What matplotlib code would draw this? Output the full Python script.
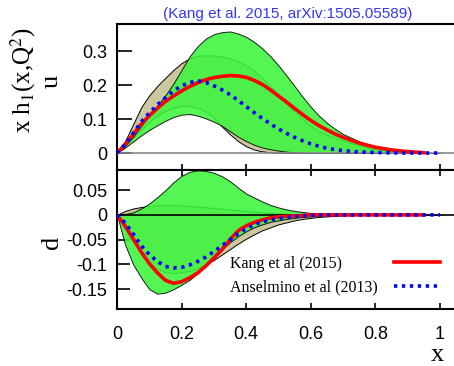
import numpy as np
import matplotlib
matplotlib.use("Agg")
import matplotlib.pyplot as plt

plt.rcParams['mathtext.fontset'] = 'stix'

# x grid
x_ans = [0, .025, .05, .075, .1, .125, .15, .175, .2, .225, .25, .275, .3, .325, .35,
         .375, .4, .425, .45, .475, .5, .525, .55, .575, .6, .625, .65, .675, .7,
         .75, .8, .85, .9, .95, 1.0]
x_kang = x_ans[:-1]

# u quark (top panel)
kang_u = [0, .025, .055, .085, .11, .132, .152, .168, .183, .196, .207, .216, .222, .226, .228,
          .227, .223, .214, .202, .186, .168, .150, .131, .113, .096, .081, .068, .056, .046,
          .029, .017, .009, .004, .001]
kang_u_hi = [0, .022, .048, .08, .112, .14, .17, .205, .245, .285, .315, .337, .35, .356, .358,
             .352, .342, .327, .308, .285, .258, .228, .197, .165, .136, .11, .089, .071, .056,
             .034, .019, .010, .004, .001]
kang_u_lo = [0, .016, .034, .052, .068, .082, .095, .106, .113, .115, .11, .102, .092, .08, .064,
             .048, .035, .024, .016, .011, .007, .004, .002, .001, 0, 0, 0, 0, 0,
             0, 0, 0, 0, 0]
ans_u = [0, .025, .058, .092, .118, .142, .163, .183, .198, .208, .213, .208, .198, .186, .172,
         .155, .137, .119, .102, .086, .071, .058, .046, .036, .027, .020, .014, .010, .007,
         .003, .0015, .0005, 0, 0, 0]
ans_u_hi = [0, .035, .085, .135, .17, .198, .222, .245, .265, .279, .286, .288, .287, .284, .279,
            .270, .258, .242, .221, .197, .172, .147, .122, .099, .08, .064, .054, .045, .037,
            .022, .011, .004, .001, 0, 0]
ans_u_lo = [0, .02, .045, .07, .092, .11, .124, .134, .139, .139, .133, .122, .105, .078, .055,
            .035, .02, .01, .005, .002, .001, 0, 0, 0, 0, 0, 0, 0, 0,
            0, 0, 0, 0, 0, 0]

# d quark (bottom panel)
kang_d = [0, -.022, -.048, -.075, -.098, -.117, -.132, -.138, -.135, -.127, -.117, -.103, -.087, -.07, -.05,
          -.032, -.022, -.015, -.010, -.006, -.004, -.003, -.002, -.001, 0, 0, 0, 0, 0,
          0, 0, 0, 0, 0]
kang_d_hi = [0, .002, .005, .013, .023, .036, .05, .066, .079, .087, .09, .089, .085, .078, .068,
             .055, .043, .035, .027, .02, .015, .011, .008, .006, .004, .003, .002, .001, .001,
             0, 0, 0, 0, 0]
kang_d_lo = [0, -.06, -.1, -.127, -.15, -.159, -.157, -.15, -.141, -.131, -.118, -.103, -.087, -.07, -.055,
             -.043, -.033, -.025, -.019, -.014, -.011, -.008, -.006, -.004, -.003, -.002, -.001, -.001, 0,
             0, 0, 0, 0, 0]
ans_d = [0, -.016, -.038, -.062, -.08, -.094, -.104, -.107, -.106, -.101, -.094, -.085, -.074, -.062, -.05,
         -.038, -.028, -.02, -.014, -.01, -.007, -.005, -.003, -.002, -.001, 0, 0, 0, 0,
         0, 0, 0, 0, 0, 0]
ans_d_hi = [0, .008, .013, .016, .018, .019, .02, .02, .019, .018, .017, .0155, .014, .0125, .011,
            .0095, .008, .0065, .005, .004, .003, .0025, .002, .0015, .001, .0005, 0, 0, 0,
            0, 0, 0, 0, 0, 0]
ans_d_lo = [0, -.03, -.055, -.078, -.097, -.109, -.116, -.117, -.116, -.113, -.108, -.1, -.091, -.08, -.069,
            -.058, -.048, -.039, -.031, -.025, -.019, -.015, -.011, -.008, -.006, -.004, -.003, -.002, -.001,
            0, 0, 0, 0, 0, 0]

x_ticks = [0, 0.2, 0.4, 0.6, 0.8, 1.0]
x_ticklabels = ['0', '0.2', '0.4', '0.6', '0.8', '1']
u_ticks = [0, 0.1, 0.2, 0.3]
u_ticklabels = ['0', '0.1', '0.2', '0.3']
d_ticks = [-0.15, -0.1, -0.05, 0, 0.05]
d_ticklabels = ['-0.15', '-0.1', '-0.05', '0', '0.05']

TAN = '#cbc79e'
GREEN = '#3cf53c'
SANS = 'Liberation Sans'
SERIF = 'Liberation Serif'

W, H = 454, 366
fig = plt.figure(figsize=(W / 100, H / 100), dpi=100)
left = 117 / W
ax_u = fig.add_axes([left, 1 - 170 / H, 1 - left, (170 - 24) / H])
ax_d = fig.add_axes([left, 1 - 309 / H, 1 - left, (309 - 170) / H])


def draw_panel(ax, kx, k, khi, klo, ax_x, a, ahi, alo, zero_color):
    ax.fill_between(ax_x, alo, ahi, facecolor=TAN, edgecolor='black', linewidth=0.7, zorder=1)
    ax.fill_between(kx, klo, khi, facecolor=GREEN, edgecolor='black', linewidth=0.7,
                    alpha=0.88, zorder=2)
    ax.axhline(0, color=zero_color, lw=1.2, zorder=3)
    ax.plot(kx, k, color='#ff0000', lw=2.6, zorder=4, label='Kang et al (2015)')
    ax.plot(ax_x, a, color='#0000ff', lw=2.6, ls=(0, (0.9, 1.3)), zorder=5,
            label='Anselmino et al (2013)')
    ax.set_xlim(0, (W - 117) / 323)
    ax.spines['right'].set_visible(False)
    for s in ['left', 'top', 'bottom']:
        ax.spines[s].set_linewidth(1.5)


draw_panel(ax_u, x_kang, kang_u, kang_u_hi, kang_u_lo, x_ans, ans_u, ans_u_hi, ans_u_lo, '#888888')
draw_panel(ax_d, x_kang, kang_d, kang_d_hi, kang_d_lo, x_ans, ans_d, ans_d_hi, ans_d_lo, 'black')

ax_u.set_ylim(-0.05, 0.38)
ax_d.set_ylim(-0.19, 0.0907)

ax_u.set_yticks(u_ticks, u_ticklabels, fontfamily=SANS, fontsize=13)
ax_d.set_yticks(d_ticks, d_ticklabels, fontfamily=SANS, fontsize=13)
ax_u.set_xticks(x_ticks, [])
ax_d.set_xticks(x_ticks, x_ticklabels, fontfamily=SANS, fontsize=13)

ax_u.tick_params(axis='y', direction='in', length=11, width=1.2, pad=7)
ax_d.tick_params(axis='y', direction='in', length=9, width=1.2, pad=7)
ax_u.tick_params(axis='x', direction='in', length=4, width=1.2)
ax_d.tick_params(axis='x', direction='in', length=4, width=1.2, top=True, pad=12)

leg = ax_d.legend(loc='lower right', bbox_to_anchor=(0.958, 0.1), markerfirst=False,
                  frameon=False, prop={'family': SERIF, 'size': 11.5}, handlelength=2.9,
                  handletextpad=1.0, labelspacing=0.45, borderaxespad=0, borderpad=0)
# gnuplot style key: labels left aligned, samples flush right
for col in leg._legend_handle_box.get_children():
    for item in col.get_children():
        item.mode = 'expand'
        item.width = 210

fig.text(288 / W, 1 - 14 / H, '(Kang et al. 2015, arXiv:1505.05589)', color='#3535f5',
         fontfamily=SANS, fontsize=11, ha='center', va='center')
fig.text(23 / W, 1 - 80 / H, r'x h$_1$(x,Q$^2$)', rotation=90, fontfamily=SERIF,
         fontsize=18, ha='center', va='center')
fig.text(52 / W, 1 - 81 / H, 'u', rotation=90, fontfamily=SERIF, fontsize=19,
         ha='center', va='center')
fig.text(52 / W, 1 - 242 / H, 'd', rotation=90, fontfamily=SERIF, fontsize=19,
         ha='center', va='center')
fig.text(437 / W, 1 - 355 / H, 'x', fontfamily=SERIF, fontsize=19, ha='center', va='center')

fig.savefig('out.png', dpi=100)
